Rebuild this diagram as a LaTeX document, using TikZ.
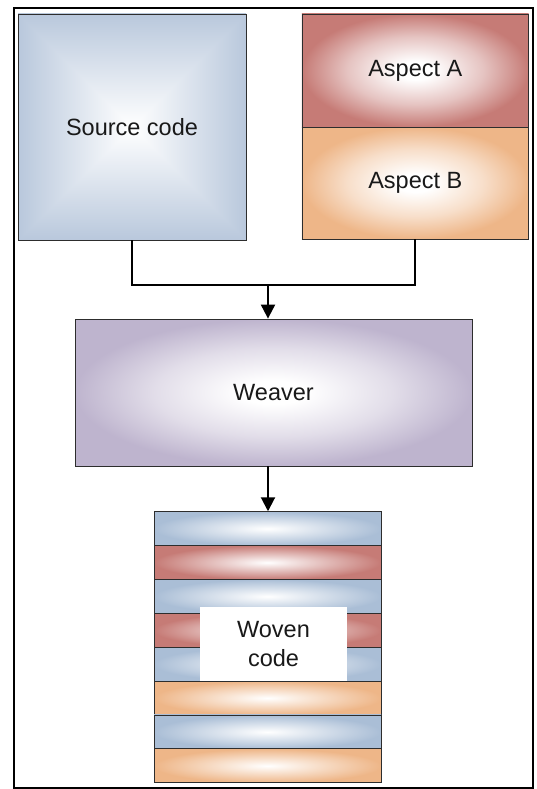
\documentclass[tikz,border=0pt]{standalone}
\usepackage{fontspec}
\setmainfont{Liberation Sans}
\usetikzlibrary{arrows.meta}
\definecolor{blueE}{RGB}{185,200,220}
\definecolor{stripeBlue}{RGB}{170,190,214}
\definecolor{redE}{RGB}{198,123,118}
\definecolor{orangeE}{RGB}{238,182,136}
\definecolor{purpleE}{RGB}{190,180,206}
\definecolor{edge}{RGB}{45,45,45}
\pgfdeclarefunctionalshading{pyramidblue}{\pgfpoint{-50bp}{-50bp}}{\pgfpoint{50bp}{50bp}}{}{
  abs exch abs 2 copy lt {exch} if pop 25 div dup 1 gt {pop 1} if
  dup dup 0.275 mul 1 exch sub 3 1 roll 0.216 mul 1 exch sub exch 0.137 mul 1 exch sub
}
\pgfdeclareradialshading{radred}{\pgfpoint{0bp}{0bp}}{color(0bp)=(white); color(4bp)=(white); color(15bp)=(redE!45!white); color(25bp)=(redE); color(50bp)=(redE)}
\pgfdeclareradialshading{radorange}{\pgfpoint{0bp}{0bp}}{color(0bp)=(white); color(4bp)=(white); color(15bp)=(orangeE!45!white); color(25bp)=(orangeE); color(50bp)=(orangeE)}
\pgfdeclareradialshading{radpurple}{\pgfpoint{0bp}{0bp}}{color(0bp)=(white); color(4bp)=(white); color(15bp)=(purpleE!45!white); color(25bp)=(purpleE); color(50bp)=(purpleE)}
\tikzset{
  box/.style={draw=edge, line width=0.8pt, rectangle, inner sep=0pt, text=black!90},
  shadebox/.style={box, shade, shading=#1},
  radbox/.style={box, shade, inner color=white, outer color=#1},
  stripe/.style={radbox=#1, minimum width=227pt, minimum height=33.875pt},
  conn/.style={line width=2pt, black},
  tip/.style={-{Triangle[width=14pt,length=14pt]}}
}
\begin{document}
\begin{tikzpicture}[x=1pt,y=-1pt, font=\fontsize{23.5}{29}\selectfont]
\useasboundingbox (0,0) rectangle (536,789);
\draw[line width=2pt] (14,8.5) rectangle (533,788);
% top row
\node[shadebox=pyramidblue, minimum width=228pt, minimum height=226pt] (src) at (132,127) {Source code};
\node[shadebox=radred, minimum width=226.7pt, minimum height=113pt] (aspA) at (415.3,70.5) {Aspect A};
\node[shadebox=radorange, minimum width=226.7pt, minimum height=112pt] (aspB) at (415.3,183) {Aspect B};
% weaver
\node[shadebox=radpurple, minimum width=397pt, minimum height=147pt] (weaver) at (273.5,392.5) {Weaver};
% woven stack
\node[stripe=stripeBlue] (s1) at (267.5,528.6) {};
\node[stripe=redE]       (s2) at (267.5,562.5) {};
\node[stripe=stripeBlue] (s3) at (267.5,596.4) {};
\node[stripe=redE]       (s4) at (267.5,630.3) {};
\node[stripe=stripeBlue] (s5) at (267.5,664.1) {};
\node[stripe=orangeE]    (s6) at (267.5,698.0) {};
\node[stripe=stripeBlue] (s7) at (267.5,731.9) {};
\node[stripe=orangeE]    (s8) at (267.5,765.8) {};
\node[fill=white, inner sep=0pt, minimum width=147pt, minimum height=74pt, align=center, text=black!90] (woven) at (273.5,644) {Woven\\code};
% connectors
\coordinate (j) at (268,285);
\draw[conn] (src.south) |- (j) -| (aspB.south);
\draw[conn, tip] (j) -- (weaver.north -| j);
\draw[conn, tip] (weaver.south -| j) -- (s1.north -| j);
\end{tikzpicture}
\end{document}
